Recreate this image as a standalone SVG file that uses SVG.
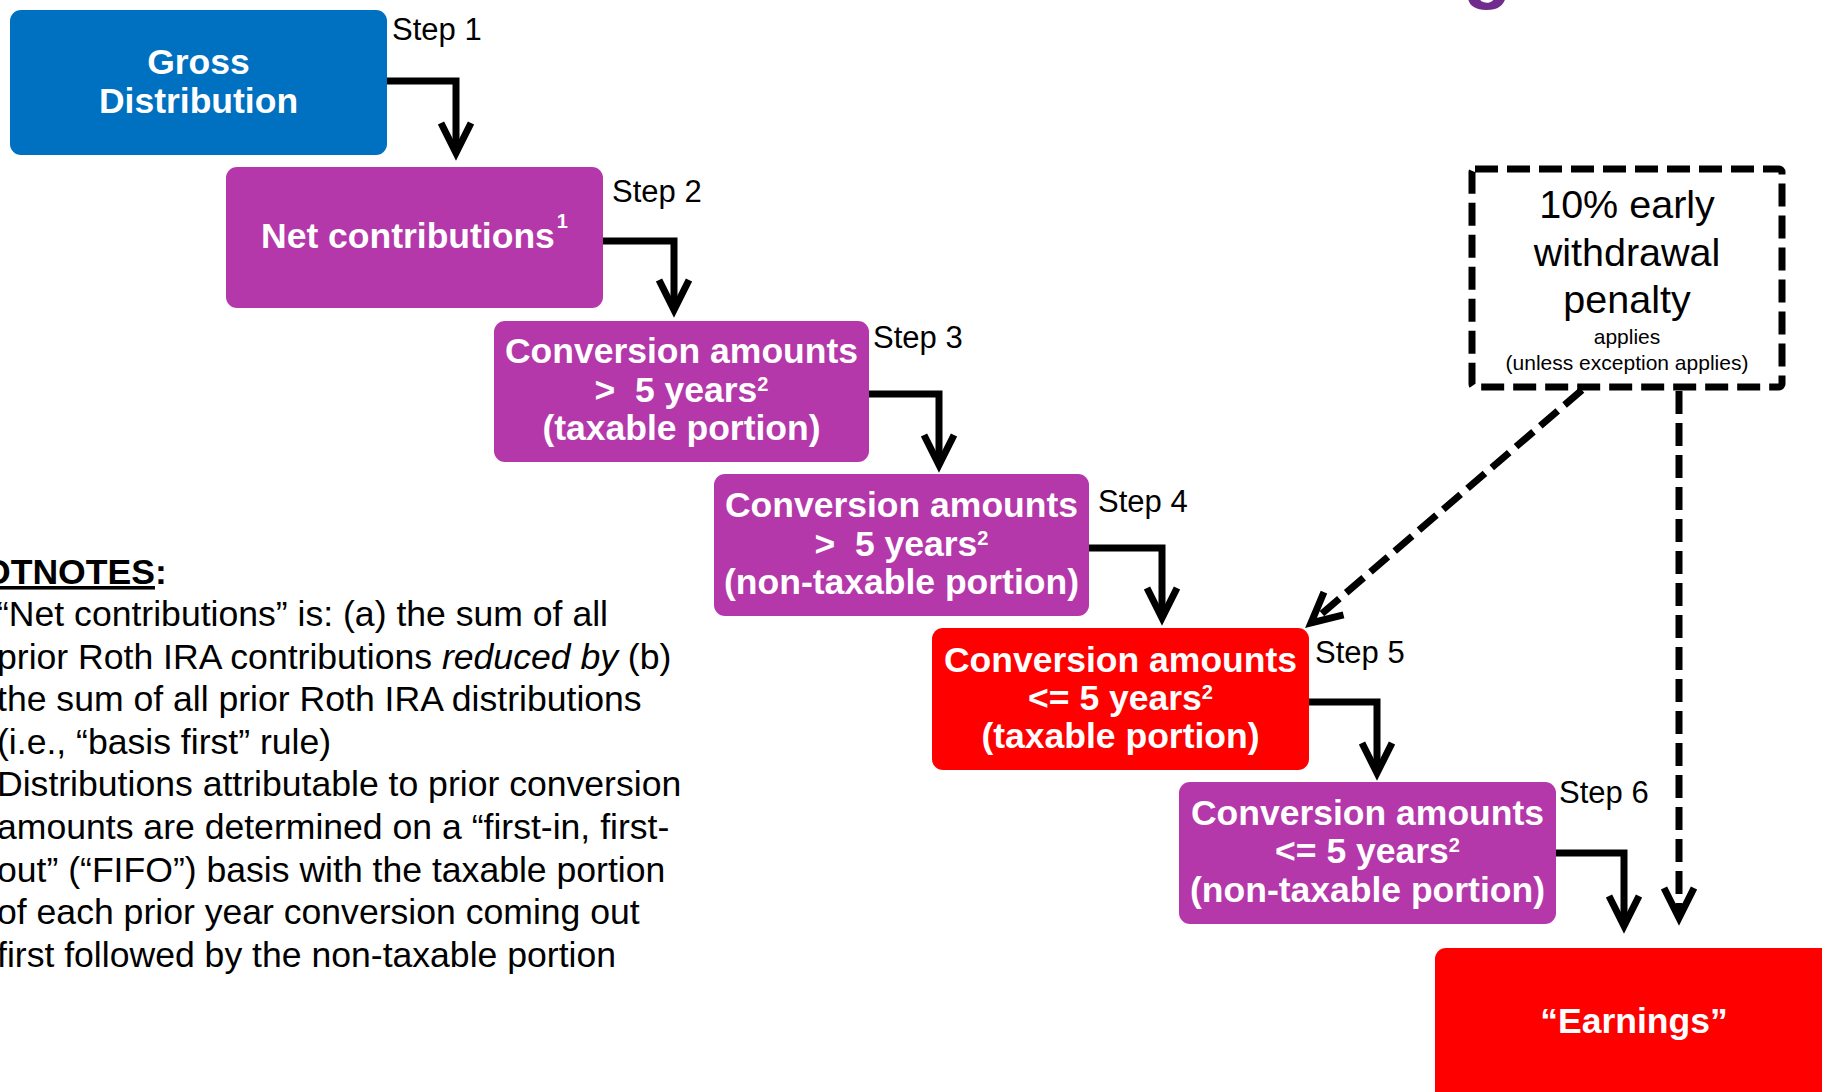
<svg xmlns="http://www.w3.org/2000/svg" width="1822" height="1092" viewBox="0 0 1822 1092">
<defs>
<style>
.box{stroke:none}
.blue{fill:#0070C0}
.purple{fill:#B438AA}
.red{fill:#FF0000}
.nt{font-family:"Liberation Sans",Arial,sans-serif;font-weight:bold;font-size:35.5px;fill:#fff;text-anchor:middle}
.sup{font-size:20px}
.step{font-family:"Liberation Sans",Arial,sans-serif;font-size:31px;fill:#000}
.conn{fill:none;stroke:#000;stroke-width:7;stroke-linejoin:miter;stroke-linecap:butt;marker-end:url(#arr)}
.dash{stroke-dasharray:23 9}
.pen{font-family:"Liberation Sans",Arial,sans-serif;fill:#000;text-anchor:middle}
.fn{font-family:"Liberation Sans",Arial,sans-serif;font-size:35.6px;fill:#000}
</style>
<marker id="arr" markerUnits="userSpaceOnUse" refX="0" refY="0" markerWidth="40" markerHeight="40" orient="auto" overflow="visible">
<path d="M-30,-15 L0,0 L-30,15" fill="none" stroke="#000" stroke-width="7" stroke-linejoin="miter"/>
</marker>
</defs>
<rect width="1822" height="1092" fill="#fff"/>

<text x="1463" y="-7" font-family="Liberation Sans,Arial,sans-serif" font-weight="bold" font-size="80" fill="#702C8C">g</text>

<g id="connectors">
<path class="conn" d="M387,81 H456 V153"/>
<path class="conn" d="M603,241 H674 V310"/>
<path class="conn" d="M869,394 H939 V465"/>
<path class="conn" d="M1089,548 H1162 V618"/>
<path class="conn" d="M1308,702 H1377 V773"/>
<path class="conn" d="M1556,853 H1624 V926"/>
<path class="conn dash" d="M1582,390 L1311,623"/>
<path class="conn dash" d="M1679,391 V918"/>
</g>

<g id="gross">
<rect class="box blue" x="10" y="10" width="377" height="145" rx="11"/>
<text class="nt" x="198.5" y="74">Gross</text>
<text class="nt" x="198.5" y="113">Distribution</text>
<text class="step" x="392" y="40">Step 1</text>
</g>

<g id="net">
<rect class="box purple" x="226" y="167" width="377" height="141" rx="11"/>
<text class="nt" x="414.5" y="248">Net contributions<tspan class="sup" dx="2" dy="-20">1</tspan></text>
<text class="step" x="612" y="202">Step 2</text>
</g>

<g id="step3">
<rect class="box purple" x="494" y="321" width="375" height="141" rx="11"/>
<text class="nt" x="681.5" y="363">Conversion amounts</text>
<text class="nt" x="681.5" y="402" xml:space="preserve">&gt;  5 years<tspan class="sup" dy="-11">2</tspan></text>
<text class="nt" x="681.5" y="440">(taxable portion)</text>
<text class="step" x="873" y="348">Step 3</text>
</g>

<g id="step4">
<rect class="box purple" x="714" y="474" width="375" height="142" rx="11"/>
<text class="nt" x="901.5" y="517">Conversion amounts</text>
<text class="nt" x="901.5" y="556" xml:space="preserve">&gt;  5 years<tspan class="sup" dy="-11">2</tspan></text>
<text class="nt" x="901.5" y="594">(non-taxable portion)</text>
<text class="step" x="1098" y="512">Step 4</text>
</g>

<g id="step5">
<rect class="box red" x="932" y="628" width="377" height="142" rx="11"/>
<text class="nt" x="1120.5" y="672">Conversion amounts</text>
<text class="nt" x="1120.5" y="710">&lt;= 5 years<tspan class="sup" dy="-11">2</tspan></text>
<text class="nt" x="1120.5" y="748">(taxable portion)</text>
<text class="step" x="1315" y="663">Step 5</text>
</g>

<g id="step6">
<rect class="box purple" x="1179" y="782" width="377" height="142" rx="11"/>
<text class="nt" x="1367.5" y="825">Conversion amounts</text>
<text class="nt" x="1367.5" y="863">&lt;= 5 years<tspan class="sup" dy="-11">2</tspan></text>
<text class="nt" x="1367.5" y="902">(non-taxable portion)</text>
<text class="step" x="1559" y="803">Step 6</text>
</g>

<g id="earnings">
<rect class="box red" x="1435" y="948" width="420" height="170" rx="11"/>
<text class="nt" x="1634" y="1033">“Earnings”</text>
</g>

<g id="penalty">
<rect x="1472" y="169" width="310" height="218" rx="3" fill="none" stroke="#000" stroke-width="7" stroke-dasharray="23 9"/>
<text class="pen" x="1627" y="218" font-size="39.5">10% early</text>
<text class="pen" x="1627" y="266" font-size="39.5">withdrawal</text>
<text class="pen" x="1627" y="313" font-size="39.5">penalty</text>
<text class="pen" x="1627" y="344" font-size="21">applies</text>
<text class="pen" x="1627" y="370" font-size="21">(unless exception applies)</text>
</g>

<g id="footnotes">
<text class="fn" x="-17" y="584" font-weight="bold"><tspan text-decoration="underline">OTNOTES</tspan>:</text>
<text class="fn" x="-3" y="626">“Net contributions” is: (a) the sum of all</text>
<text class="fn" x="-3" y="669">prior Roth IRA contributions <tspan font-style="italic">reduced by</tspan> (b)</text>
<text class="fn" x="-3" y="711">the sum of all prior Roth IRA distributions</text>
<text class="fn" x="-3" y="754">(i.e., “basis first” rule)</text>
<text class="fn" x="-3" y="796">Distributions attributable to prior conversion</text>
<text class="fn" x="-3" y="839">amounts are determined on a “first-in, first-</text>
<text class="fn" x="-3" y="882">out” (“FIFO”) basis with the taxable portion</text>
<text class="fn" x="-3" y="924">of each prior year conversion coming out</text>
<text class="fn" x="-3" y="967">first followed by the non-taxable portion</text>
</g>
</svg>
